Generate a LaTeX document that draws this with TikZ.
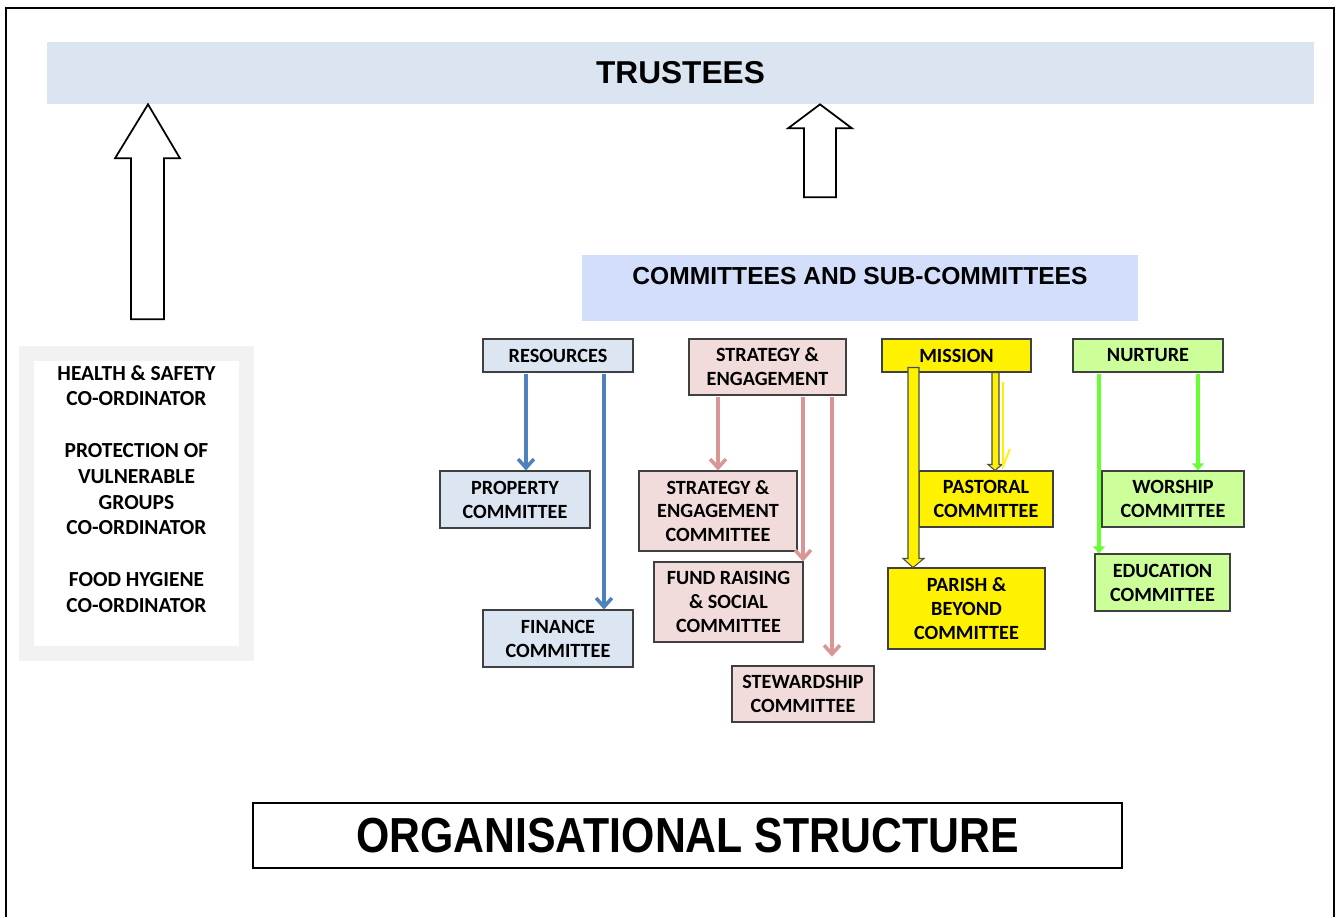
\documentclass[tikz,border=0pt]{standalone}
\usepackage{fontspec}
\setmainfont{Carlito}
\newfontfamily\arialfont{Liberation Sans}
\newfontfamily\narrowfont[FakeStretch=0.87]{Liberation Sans}
\usetikzlibrary{arrows.meta}

\definecolor{trustblue}{RGB}{219,229,241}
\definecolor{comblue}{RGB}{211,222,251}
\definecolor{resblue}{RGB}{220,230,242}
\definecolor{stratpink}{RGB}{242,220,219}
\definecolor{nurtgreen}{RGB}{204,255,153}
\definecolor{arrblue}{RGB}{79,129,189}
\definecolor{arrpink}{RGB}{217,150,148}
\definecolor{arrgreen}{RGB}{102,255,51}

\begin{document}
\begin{tikzpicture}[x=0.02cm, y=-0.02cm,
	cbox/.style={draw=black!75, line width=0.6pt, align=center, inner sep=0pt, font=\bfseries\fontsize{11.5}{13.6}\selectfont},
	resbox/.style={cbox, fill=resblue},
	stratbox/.style={cbox, fill=stratpink},
	missbox/.style={cbox, fill=yellow},
	nurtbox/.style={cbox, fill=nurtgreen},
	band/.style={inner sep=0pt, font=\arialfont\bfseries},
	resarr/.style={arrblue, line width=2pt, shorten <=1pt, -{Straight Barb[length=5pt,width=9pt]}},
	stratarr/.style={arrpink, line width=2pt, shorten <=1pt, -{Straight Barb[length=5pt,width=9pt]}},
	nurtarr/.style={arrgreen, line width=2.8pt, shorten <=1pt, -{Triangle[length=4pt,width=6.5pt]}},
	missarr/.style={draw=black!70, line width=0.6pt, fill=yellow},
	bigarr/.style={draw=black, line width=1pt, fill=white}]
				\useasboundingbox (0,0) rectangle (1339,917);
				\draw[line width=1.2pt] (6,917) -- (6,8) -- (1334,8) -- (1334,917);

				% top
				\node[band, fill=trustblue, minimum width=25.34cm, minimum height=1.24cm, font=\arialfont\bfseries\fontsize{18}{22}\selectfont] (trustees) at (680.5,73) {TRUSTEES\hspace{0.24cm}};
				\node[band, fill=comblue, minimum width=11.12cm, text height=0.58cm, text depth=0.74cm, font=\arialfont\bfseries\fontsize{14}{17}\selectfont] (comm) at (860,288) {COMMITTEES AND SUB-COMMITTEES};

				% co-ordinators
				\node[draw=black!5, line width=0.3cm, fill=white, minimum width=4.4cm, minimum height=6.02cm, align=center, text depth=0.58cm, font=\bfseries\fontsize{12.2}{14.6}\selectfont] (coord) at (136.5,503.5) {HEALTH \& SAFETY\\CO-ORDINATOR\\[15pt]PROTECTION OF\\VULNERABLE\\GROUPS\\CO-ORDINATOR\\[15pt]FOOD HYGIENE\\CO-ORDINATOR};

				% resources
				\node[resbox, minimum width=3cm, minimum height=0.66cm] (res) at (558,355.5) {RESOURCES};
				\node[resbox, minimum width=3cm, minimum height=1.14cm] (prop) at (515,499.5) {PROPERTY\\COMMITTEE};
				\node[resbox, minimum width=3cm, minimum height=1.14cm] (fin) at (558,638.5) {FINANCE\\COMMITTEE};

				% strategy
				\node[stratbox, minimum width=3.14cm, minimum height=1.12cm] (strat) at (767.5,367) {STRATEGY \&\\ENGAGEMENT};
				\node[stratbox, minimum width=3.16cm, minimum height=1.6cm] (secom) at (718,511) {STRATEGY \&\\ENGAGEMENT\\COMMITTEE};
				\node[stratbox, minimum width=2.98cm, minimum height=1.6cm] (fund) at (728.5,602) {FUND RAISING\\\& SOCIAL\\COMMITTEE};
				\node[stratbox, minimum width=2.84cm, minimum height=1.12cm] (stew) at (803,694) {STEWARDSHIP\\COMMITTEE};

				% mission
				\node[missbox, minimum width=2.98cm, minimum height=0.66cm] (mission) at (956.5,355.5) {MISSION};
				\node[missbox, minimum width=2.68cm, minimum height=1.12cm] (past) at (986,499) {PASTORAL\\COMMITTEE};
				\node[missbox, minimum width=3.14cm, minimum height=1.62cm] (parish) at (966.5,608.5) {PARISH \&\\BEYOND\\COMMITTEE};

				% nurture
				\node[nurtbox, minimum width=3cm, minimum height=0.66cm] (nurt) at (1148,355.5) {NURTURE};
				\node[nurtbox, minimum width=2.84cm, minimum height=1.12cm] (wor) at (1173,499) {WORSHIP\\COMMITTEE};
				\node[nurtbox, minimum width=2.7cm, minimum height=1.14cm] (edu) at (1162.5,582.5) {EDUCATION\\COMMITTEE};

				\node[draw=black, line width=1.1pt, minimum width=17.38cm, minimum height=1.3cm, inner sep=0pt, font=\narrowfont\bfseries\fontsize{28}{32}\selectfont] (title) at (687.5,835.5) {ORGANISATIONAL STRUCTURE};

				% arrows up
				\draw[bigarr] (trustees.south -| 148,0) -- ++(32,54) -- ++(-16,0) -- ++(0,161) -- ++(-33,0) -- ++(0,-161) -- ++(-16,0) -- cycle;
				\draw[bigarr] (trustees.south -| 820,0) -- ++(32,24) -- ++(-16,0) -- ++(0,69) -- ++(-32,0) -- ++(0,-69) -- ++(-16,0) -- cycle;

				% arrows down
				\draw[resarr] (res.south -| 526,0) -- (prop.north -| 526,0);
				\draw[resarr] (res.south -| 604,0) -- (fin.north -| 604,0);
				\draw[stratarr] (strat.south -| 718,0) -- (secom.north -| 718,0);
				\draw[stratarr] (strat.south -| 803,0) -- (fund.north -| 803,0);
				\draw[stratarr, shorten >=5pt] (strat.south -| 832,0) -- (stew.north -| 832,0);
				\draw[missarr] (parish.north -| 913,0) -- ++(11,-9) -- ++(-5,0) -- ++(0,-191) -- ++(-11,0) -- ++(0,191) -- ++(-5,0) -- cycle;
				\draw[missarr] (past.north -| 995,0) -- ++(7,-6) -- ++(-3,0) -- ++(0,-92) -- ++(-7,0) -- ++(0,92) -- ++(-4,0) -- cycle;
				\draw[yellow, line width=1pt] (1003,382) -- (1003,466) -- (1010,449);
				\draw[nurtarr] (nurt.south -| 1099,0) -- (edu.north -| 1099,0);
				\draw[nurtarr] (nurt.south -| 1198,0) -- (wor.north -| 1198,0);
			\end{tikzpicture}
\end{document}
